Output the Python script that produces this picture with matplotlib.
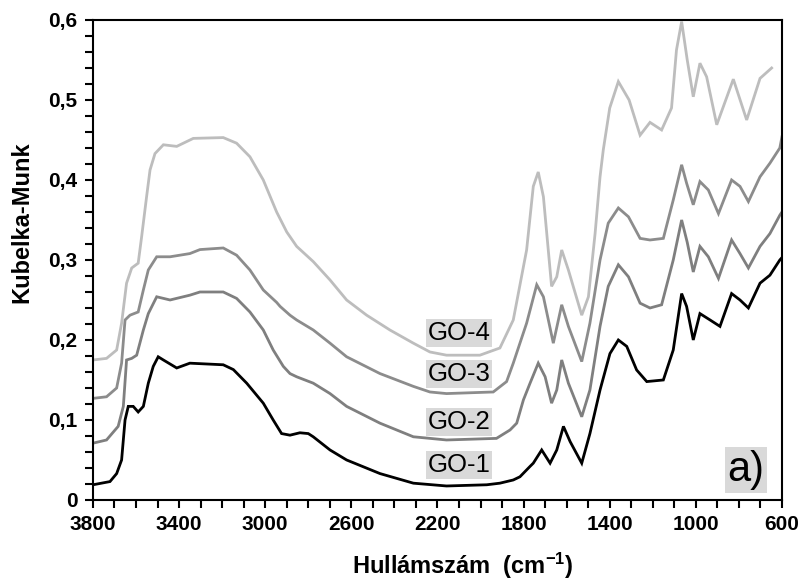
import matplotlib
matplotlib.use("Agg")
import matplotlib.pyplot as plt
from matplotlib.ticker import MultipleLocator, FuncFormatter

plt.rcParams["font.family"] = ["Liberation Sans", "DejaVu Sans"]
plt.rcParams["mathtext.default"] = "regular"

# wavenumber (cm-1) / Kubelka-Munk values
go1_x = [3800, 3721, 3690, 3667, 3651, 3636, 3613, 3590, 3566, 3543, 3520, 3497, 3473,
         3411, 3350, 3195, 3148, 3086, 3009, 2963, 2924, 2885, 2839, 2800, 2777, 2699,
         2622, 2467, 2312, 2158, 1971, 1910, 1848, 1817, 1770, 1755, 1716, 1677, 1646,
         1615, 1584, 1530, 1492, 1445, 1399, 1360, 1321, 1275, 1228, 1151, 1105, 1066,
         1043, 1012, 981, 934, 888, 834, 795, 756, 702, 656, 610, 600]
go1_y = [0.019, 0.023, 0.033, 0.05, 0.1, 0.117, 0.117, 0.11, 0.117, 0.146, 0.167, 0.179,
         0.175, 0.165, 0.171, 0.169, 0.163, 0.146, 0.121, 0.1, 0.083, 0.081, 0.084, 0.083,
         0.079, 0.0625, 0.05, 0.033, 0.021, 0.0175, 0.019, 0.021, 0.025, 0.029, 0.042,
         0.046, 0.0625, 0.046, 0.0625, 0.092, 0.073, 0.046, 0.083, 0.1375, 0.183, 0.2,
         0.192, 0.1625, 0.148, 0.15, 0.1875, 0.258, 0.242, 0.2, 0.233, 0.225, 0.217,
         0.258, 0.25, 0.24, 0.271, 0.281, 0.3, 0.303]

go2_x = [3800, 3737, 3683, 3659, 3644, 3620, 3597, 3566, 3543, 3504, 3442, 3350, 3303,
         3195, 3133, 3071, 3009, 2963, 2916, 2885, 2854, 2777, 2699, 2622, 2467, 2312,
         2158, 1926, 1863, 1832, 1801, 1770, 1732, 1700, 1670, 1646, 1623, 1592, 1530,
         1492, 1445, 1407, 1360, 1313, 1259, 1213, 1159, 1105, 1066, 1040, 1012, 981,
         942, 895, 834, 795, 756, 702, 656, 610, 600]
go2_y = [0.071, 0.075, 0.092, 0.117, 0.175, 0.177, 0.181, 0.2125, 0.233, 0.254, 0.25,
         0.256, 0.26, 0.26, 0.252, 0.235, 0.2125, 0.1875, 0.167, 0.158, 0.154, 0.146,
         0.133, 0.117, 0.096, 0.079, 0.075, 0.077, 0.0875, 0.096, 0.125, 0.146, 0.171,
         0.154, 0.121, 0.1375, 0.175, 0.146, 0.104, 0.1375, 0.217, 0.267, 0.294, 0.279,
         0.246, 0.24, 0.244, 0.3, 0.35, 0.322, 0.285, 0.317, 0.304, 0.277, 0.325, 0.308,
         0.29, 0.317, 0.333, 0.356, 0.36]

go3_x = [3800, 3737, 3690, 3667, 3651, 3628, 3590, 3566, 3543, 3504, 3442, 3350, 3303,
         3195, 3133, 3071, 3009, 2947, 2931, 2885, 2854, 2777, 2699, 2622, 2467, 2312,
         2235, 2158, 1941, 1879, 1848, 1817, 1786, 1739, 1708, 1662, 1623, 1592, 1530,
         1492, 1445, 1407, 1360, 1313, 1259, 1213, 1151, 1105, 1066, 1043, 1012, 981,
         942, 895, 834, 795, 756, 702, 656, 610, 600]
go3_y = [0.127, 0.129, 0.14, 0.171, 0.225, 0.231, 0.235, 0.2625, 0.2875, 0.304, 0.304,
         0.308, 0.313, 0.315, 0.306, 0.2875, 0.2625, 0.247, 0.242, 0.231, 0.225, 0.2125,
         0.196, 0.179, 0.158, 0.142, 0.135, 0.133, 0.135, 0.148, 0.171, 0.196, 0.221,
         0.269, 0.254, 0.196, 0.244, 0.217, 0.173, 0.221, 0.3, 0.346, 0.365, 0.354,
         0.327, 0.325, 0.327, 0.375, 0.419, 0.396, 0.369, 0.398, 0.3875, 0.358, 0.4,
         0.392, 0.373, 0.404, 0.421, 0.44, 0.454]

go4_x = [3800, 3737, 3690, 3667, 3644, 3620, 3590, 3574, 3551, 3535, 3512, 3473, 3411,
         3334, 3195, 3133, 3071, 3009, 2947, 2900, 2854, 2777, 2699, 2622, 2529, 2421,
         2312, 2235, 2158, 2003, 1910, 1848, 1786, 1755, 1732, 1708, 1670, 1646, 1623,
         1592, 1530, 1499, 1468, 1445, 1430, 1400, 1360, 1310, 1259, 1213, 1159, 1113,
         1090, 1066, 1040, 1012, 981, 950, 903, 826, 764, 702, 648]
go4_y = [0.175, 0.177, 0.1875, 0.221, 0.271, 0.29, 0.296, 0.329, 0.379, 0.4125, 0.433,
         0.444, 0.442, 0.452, 0.453, 0.446, 0.429, 0.4, 0.36, 0.335, 0.317, 0.298, 0.275,
         0.25, 0.231, 0.2125, 0.196, 0.185, 0.181, 0.181, 0.19, 0.225, 0.3125, 0.392,
         0.41, 0.379, 0.267, 0.279, 0.3125, 0.2875, 0.231, 0.254, 0.333, 0.404, 0.4375,
         0.49, 0.523, 0.5, 0.456, 0.472, 0.4625, 0.49, 0.5625, 0.598, 0.55, 0.504, 0.546,
         0.529, 0.469, 0.526, 0.475, 0.527, 0.54]

names = ["GO-1", "GO-2", "GO-3", "GO-4"]
label_x = [2100, 2100, 2100, 2100]
label_y = [0.044, 0.098, 0.158, 0.209]
colors = ["#000000", "#7f7f7f", "#8c8c8c", "#bdbdbd"]

fig = plt.figure(figsize=(8.07, 5.86), dpi=100)
ax = fig.add_axes([0.1152, 0.1468, 0.8538, 0.8191])

series = [(go1_x, go1_y), (go2_x, go2_y), (go3_x, go3_y), (go4_x, go4_y)]
for (xs, ys), c in zip(series, colors):
    ax.plot(xs, ys, color=c, lw=2.0, solid_joinstyle="miter")

for name, lx, ly in zip(names, label_x, label_y):
    ax.text(lx, ly, name, fontsize=18.5, ha="center", va="center",
            bbox=dict(facecolor="#d9d9d9", edgecolor="none", pad=1.5))

ax.text(767, 0.037, "a)", fontsize=30, ha="center", va="center",
        bbox=dict(facecolor="#d9d9d9", edgecolor="none", pad=2))

ax.set_xlim(3800, 600)
ax.set_ylim(0, 0.6)
ax.xaxis.set_major_locator(MultipleLocator(400, offset=200))
ax.xaxis.set_minor_locator(MultipleLocator(100))
ax.yaxis.set_major_locator(MultipleLocator(0.1))
ax.yaxis.set_minor_locator(MultipleLocator(0.02))
ax.yaxis.set_major_formatter(FuncFormatter(
    lambda v, p: "0" if abs(v) < 1e-9 else f"{v:.1f}".replace(".", ",")))

ax.tick_params(which="both", direction="out", width=1.5, labelsize=15)
ax.tick_params(which="major", length=6, pad=5)
ax.tick_params(which="minor", length=6)
for lab in ax.get_xticklabels() + ax.get_yticklabels():
    lab.set_fontweight("bold")
for s in ax.spines.values():
    s.set_linewidth(1.5)

ax.set_xlabel("Hullámszám  (cm$^{-1}$)", fontsize=17, fontweight="bold")
ax.set_ylabel("Kubelka-Munk", fontsize=17, fontweight="bold")
ax.xaxis.set_label_coords(0.536, -0.106)
ax.yaxis.set_label_coords(-0.087, 0.579)

fig.savefig("out.png", dpi=100)
